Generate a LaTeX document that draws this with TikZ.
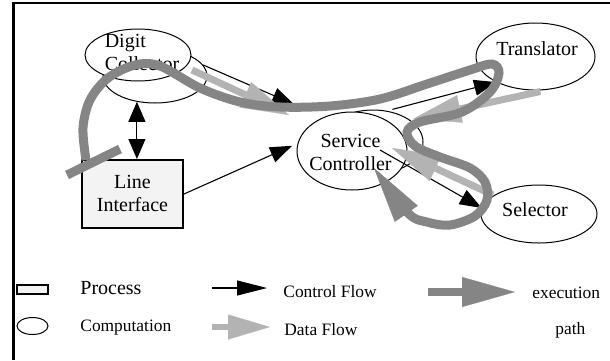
\documentclass[tikz,border=0pt]{standalone}
\usepackage{fontspec}
\setmainfont{Liberation Serif}
\usetikzlibrary{arrows.meta,calc,shapes.geometric}

\definecolor{datagray}{HTML}{B3B3B3}
\definecolor{execgray}{HTML}{858585}
\definecolor{boxfill}{HTML}{F3F3F3}

\begin{document}
\begin{tikzpicture}[x=0.5pt,y=-0.5pt,
  comp/.style={draw, ellipse, inner sep=0pt, line width=0.5pt, fill=white},
  proc/.style={draw, rectangle, inner sep=0pt, line width=1pt, fill=boxfill},
  lbl/.style={font=\fontsize{10}{11.5}\selectfont, align=center, inner sep=0pt},
  legtext/.style={font=\fontsize{8.7}{10}\selectfont, inner sep=0pt, anchor=base west},
  ctrl/.style={line width=0.55pt, -{Triangle[length=11pt,width=8pt]}},
  ctrlboth/.style={line width=0.55pt,
    {Triangle[length=10pt,width=8.5pt]}-{Triangle[length=10pt,width=8.5pt]}},
  data/.style={color=datagray, line width=3.5pt, -{Triangle[length=24pt,width=14pt,line width=0.1pt]}},
  exec/.style={color=execgray, line width=4.5pt},
]
\useasboundingbox (0,0) rectangle (610,360);

% outer frame
\draw[line width=1.4pt] (13.5,360) -- (13.5,3) -- (610,3);

% computations (shadowed ellipses) and the process box
\node[comp, minimum width=52pt, minimum height=27pt] (dcb) at (155,76) {};
\node[comp, minimum width=53pt, minimum height=26pt] (dcf) at (138,55) {};
\node[comp, minimum width=50pt, minimum height=32pt] (scb) at (373,142) {};
\node[comp, minimum width=55pt, minimum height=39pt] (sc) at (352,151) {};
\node[comp, minimum width=59.5pt, minimum height=33.5pt] (tr) at (535.5,56.5) {};
\node[comp, minimum width=58pt, minimum height=29pt] (sel) at (539,214) {};
\node[proc, minimum width=50.5pt, minimum height=34pt] (li) at (132.5,194) {};

% labels
\node[lbl, align=left] (dctext) at (142,52) {Digit\\Collector};
\node[lbl] (litext) at (132.5,193) {Line\\Interface};
\node[lbl] (sctext) at (350.5,152) {Service\\Controller};
\node[lbl] (trtext) at (537,49) {Translator};
\node[lbl] (seltext) at (535,210) {Selector};

% control flow
\draw[ctrlboth] (dcb.235) -- (dcb.235 |- li.north);
\draw[ctrl, shorten >=16pt] (dcb.13) -- (sc.130);
\draw[ctrl, shorten >=3pt] (li.east) -- (sc.172);
\draw[ctrl, shorten <=10pt] (sc.60) -- (tr.213);
\draw[ctrl] ([shift={(28,-1)}]sc.center) -- (sel.174);

% data flow
\draw[data] ([shift={(54,15)}]dcf.center) -- ([shift={(-63,-36)}]sc.center);
\draw[data] ([shift={(5,35)}]tr.center) -- ([shift={(61,-32)}]sc.center);
\draw[data] ([shift={(-46,-19)}]sel.center) -- ([shift={(40,-3)}]sc.center);

% execution path
\coordinate (barA) at (67,175);
\coordinate (barB) at (120,149);
\draw[exec] (barA) -- (barB);
\draw[exec, -{Triangle[length=28pt,width=14pt,line width=0.1pt]}]
  plot[smooth, tension=0.55] coordinates {
    (86,160) (83,128) (90,100) (108,78) (135,65) (160,66) (200,88)
    (240,102) (280,107) (330,106) (380,99) (427,84) (470,70) (492,64)
    (499,73) (490,92) (462,112) (420,122) (407,132) (415,146) (440,157)
    (470,168) (485,182) (487,200) (475,216) (450,225) (427,222) (408,213) (374,168)};

% legend
\node[proc, minimum width=15.5pt, minimum height=4.5pt] (lproc) at (32.5,289.5) {};
\node[comp, minimum width=15.5pt, minimum height=8.5pt] (lcomp) at (32.5,326) {};
\node[legtext, font=\fontsize{10}{12}\selectfont] (tproc) at (80,294) {Process};
\node[legtext] (tcomp) at (80,331) {Computation};

\coordinate (lcA) at (212,288);
\coordinate (lcB) at (267,288);
\draw[line width=0.55pt, -{Triangle[length=15pt,width=7.5pt]}] (lcA) -- (lcB);
\node[legtext] (tctrl) at (283,297) {Control Flow};

\coordinate (ldA) at (212,327);
\coordinate (ldB) at (270,327);
\draw[color=datagray, line width=2.8pt,
  -{Triangle[length=21pt,width=12.5pt,line width=0.1pt]}] (ldA) -- (ldB);
\node[legtext] (tdata) at (284,335) {Data Flow};

\coordinate (leA) at (428,292);
\coordinate (leB) at (515,292);
\draw[exec, line width=4pt, -{Triangle[length=26.5pt,width=15pt,line width=0.1pt]}] (leA) -- (leB);
\node[legtext] (texec) at (532,298) {execution};
\node[legtext] (tpath) at (555,334) {path};
\end{tikzpicture}
\end{document}
